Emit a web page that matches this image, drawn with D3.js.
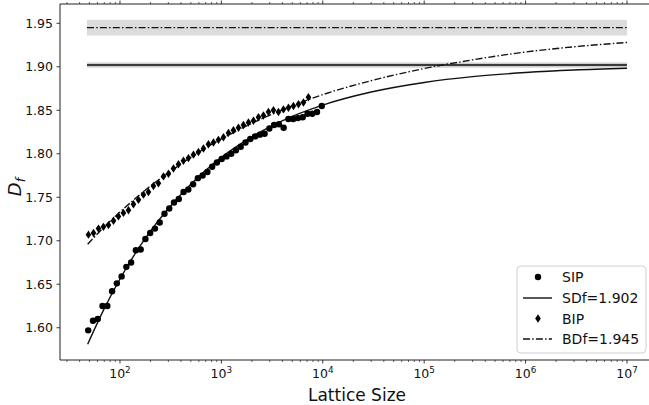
<!DOCTYPE html>
<html>
<head>
<meta charset="utf-8">
<script src="https://cdn.jsdelivr.net/npm/d3@7"></script>
<style>
  html, body { margin: 0; padding: 0; background: #fff; }
  svg { display: block; font-family: "DejaVu Sans", sans-serif; }
</style>
</head>
<body>
<svg id="chart" width="649" height="405"></svg>
<script>
// ---------- data ----------
const sipL = [48.6, 54.2, 60.4, 67.3, 75.0, 83.6, 93.1, 103.8, 115.6, 128.8,
  143.5, 160.0, 178.2, 198.6, 221.3, 246.6, 274.8, 306.2, 341.2, 380.2,
  423.6, 472.1, 526.0, 586.1, 653.1, 727.8, 811.0, 903.6, 1007, 1122,
  1250, 1393, 1552, 1730, 1928, 2148, 2393, 2667, 2972, 3311,
  3690, 4111, 4581, 5105, 5689, 6339, 7063, 7870, 8770, 9772];
const sipD = [1.597, 1.608, 1.610, 1.625, 1.625, 1.642, 1.651, 1.659, 1.670, 1.675,
  1.689, 1.690, 1.702, 1.709, 1.714, 1.721, 1.731, 1.737, 1.744, 1.748,
  1.756, 1.759, 1.765, 1.772, 1.775, 1.779, 1.785, 1.790, 1.794, 1.797,
  1.800, 1.804, 1.808, 1.813, 1.817, 1.820, 1.822, 1.823, 1.829, 1.833,
  1.834, 1.830, 1.840, 1.840, 1.841, 1.842, 1.846, 1.846, 1.848, 1.855];

const bipL = [48.9, 54.8, 61.4, 68.7, 77.0, 86.3, 96.6, 108.2, 121.3, 135.8,
  152.2, 170.4, 190.9, 213.9, 239.6, 268.4, 300.7, 336.8, 377.4, 422.7,
  473.5, 530.5, 594.2, 665.7, 745.7, 835.4, 935.7, 1048, 1174, 1315,
  1474, 1651, 1849, 2072, 2321, 2600, 2912, 3262, 3654, 4093,
  4585, 5136, 5754, 6446, 7220];
const bipD = [1.707, 1.709, 1.714, 1.716, 1.718, 1.723, 1.728, 1.732, 1.735, 1.742,
  1.747, 1.753, 1.756, 1.763, 1.766, 1.774, 1.777, 1.783, 1.788, 1.792,
  1.795, 1.799, 1.802, 1.806, 1.811, 1.813, 1.816, 1.819, 1.824, 1.827,
  1.830, 1.833, 1.836, 1.838, 1.842, 1.844, 1.848, 1.850, 1.848, 1.851,
  1.853, 1.855, 1.857, 1.859, 1.865];

// fitted curves
const sFitL = [48, 70, 100, 150, 200, 300, 500, 700, 1e3, 2e3, 5e3, 1e4, 3e4, 1e5, 3e5, 1e6, 3e6, 1e7];
const sFitD = [1.581, 1.622, 1.656, 1.690, 1.711, 1.737, 1.765, 1.781, 1.796, 1.8195, 1.843, 1.856, 1.871, 1.882, 1.8887, 1.8934, 1.8963, 1.8983];
const bFitL = [48, 70, 100, 150, 200, 300, 500, 700, 1e3, 2e3, 5e3, 1e4, 3e4, 1e5, 3e5, 1e6, 3e6, 1e7];
const bFitD = [1.696, 1.716, 1.733, 1.751, 1.763, 1.778, 1.796, 1.807, 1.817, 1.835, 1.855, 1.868, 1.884, 1.898, 1.908, 1.917, 1.923, 1.928];

// limit values with uncertainty bands
const sdf = 1.902, sdfErr = 0.003;
const bdf = 1.945, bdfErr = 0.009;
const bandRange = [47.3, 1e7];

const xTicks = [1e2, 1e3, 1e4, 1e5, 1e6, 1e7];
const xTickExp = ["2", "3", "4", "5", "6", "7"];
const yTicks = [1.60, 1.65, 1.70, 1.75, 1.80, 1.85, 1.90, 1.95];

const legendLabels = ["SIP", "SDf=1.902", "BIP", "BDf=1.945"];

(function () {
// ---------- layout ----------
const W = 649, H = 405;
const pL = 60, pR = 654, pT = 4, pB = 360;
const svg = d3.select("#chart");

const x = d3.scaleLog().domain([Math.pow(10, 1.4086), Math.pow(10, 7.2663)]).range([pL, pR]);
const y = d3.scaleLinear().domain([1.5629, 1.9722]).range([pB, pT]);

const g = svg.append("g");

// bands
g.append("rect")
  .attr("x", x(bandRange[0])).attr("width", x(bandRange[1]) - x(bandRange[0]))
  .attr("y", y(bdf + bdfErr)).attr("height", y(bdf - bdfErr) - y(bdf + bdfErr))
  .attr("fill", "#dcdcdc");
g.append("rect")
  .attr("x", x(bandRange[0])).attr("width", x(bandRange[1]) - x(bandRange[0]))
  .attr("y", y(sdf + sdfErr)).attr("height", y(sdf - sdfErr) - y(sdf + sdfErr))
  .attr("fill", "#cfcfcf");

const dashDot = "7,2.2,1.5,2.2";

g.append("line")
  .attr("x1", x(bandRange[0])).attr("x2", x(bandRange[1]))
  .attr("y1", y(sdf)).attr("y2", y(sdf))
  .attr("stroke", "#3a3a3a").attr("stroke-width", 2);
g.append("line")
  .attr("x1", x(bandRange[0])).attr("x2", x(bandRange[1]))
  .attr("y1", y(bdf)).attr("y2", y(bdf))
  .attr("stroke", "#111").attr("stroke-width", 1.4)
  .attr("stroke-dasharray", dashDot);

// fit curves
const line = d3.line().x(d => x(d[0])).y(d => y(d[1])).curve(d3.curveMonotoneX);
g.append("path")
  .datum(sFitL.map((l, i) => [l, sFitD[i]]))
  .attr("d", line).attr("fill", "none").attr("stroke", "#111").attr("stroke-width", 1.4);
g.append("path")
  .datum(bFitL.map((l, i) => [l, bFitD[i]]))
  .attr("d", line).attr("fill", "none").attr("stroke", "#111").attr("stroke-width", 1.4)
  .attr("stroke-dasharray", dashDot);

// markers
const diamond = (cx, cy, w, h) => `M${cx},${cy - h}L${cx + w},${cy}L${cx},${cy + h}L${cx - w},${cy}Z`;

g.append("g").selectAll("circle")
  .data(sipL.map((l, i) => [l, sipD[i]]))
  .join("circle")
  .attr("cx", d => x(d[0])).attr("cy", d => y(d[1])).attr("r", 3.2)
  .attr("fill", "#000");

g.append("g").selectAll("path")
  .data(bipL.map((l, i) => [l, bipD[i]]))
  .join("path")
  .attr("d", d => diamond(x(d[0]), y(d[1]), 2.8, 4.2))
  .attr("fill", "#000");

// ---------- axes ----------
const ax = svg.append("g").attr("stroke", "#222").attr("stroke-width", 1);
ax.append("line").attr("x1", pL).attr("x2", W).attr("y1", pB).attr("y2", pB);
ax.append("line").attr("x1", pL).attr("x2", W).attr("y1", pT).attr("y2", pT);
ax.append("line").attr("x1", pL).attr("x2", pL).attr("y1", pT).attr("y2", pB);

// minor ticks (log)
const minor = [];
for (let e = 1; e <= 7; e++) for (let m = 2; m <= 9; m++) {
  const v = m * Math.pow(10, e);
  if (v >= x.domain()[0] && v <= x.domain()[1] && x(v) <= W) minor.push(v);
}
minor.forEach(v => {
  ax.append("line").attr("x1", x(v)).attr("x2", x(v)).attr("y1", pB).attr("y2", pB + 2).attr("stroke-width", 0.7);
  ax.append("line").attr("x1", x(v)).attr("x2", x(v)).attr("y1", pT).attr("y2", pT - 2).attr("stroke-width", 0.7);
});
xTicks.forEach((v, i) => {
  ax.append("line").attr("x1", x(v)).attr("x2", x(v)).attr("y1", pB).attr("y2", pB + 3.5).attr("stroke-width", 0.9);
  ax.append("line").attr("x1", x(v)).attr("x2", x(v)).attr("y1", pT).attr("y2", pT - 3.5).attr("stroke-width", 0.9);
  const t = svg.append("text")
    .attr("x", x(v)).attr("y", 378)
    .attr("text-anchor", "middle")
    .attr("font-size", 12.5).attr("fill", "#111");
  t.append("tspan").text("10");
  t.append("tspan").attr("font-size", 8.8).attr("dy", -5.5).text(xTickExp[i]);
});
yTicks.forEach(v => {
  ax.append("line").attr("x1", pL - 3.5).attr("x2", pL).attr("y1", y(v)).attr("y2", y(v)).attr("stroke-width", 0.9);
  svg.append("text")
    .attr("x", 53).attr("y", y(v)).attr("dy", "0.36em")
    .attr("text-anchor", "end")
    .attr("font-size", 12.5).attr("fill", "#111")
    .text(v.toFixed(2));
});

// axis labels
svg.append("text")
  .attr("x", 357).attr("y", 401)
  .attr("text-anchor", "middle").attr("font-size", 17).attr("fill", "#111")
  .text("Lattice Size");

const yl = svg.append("text")
  .attr("transform", "translate(21,187) rotate(-90)")
  .attr("text-anchor", "middle").attr("font-size", 18).attr("fill", "#111")
  .attr("font-style", "italic");
yl.append("tspan").text("D");
yl.append("tspan").attr("font-size", 12.5).attr("dy", 3.5).text("f");

// ---------- legend ----------
const lg = svg.append("g");
lg.append("rect")
  .attr("x", 517).attr("y", 266).attr("width", 129).attr("height", 87)
  .attr("rx", 4).attr("fill", "#fff").attr("fill-opacity", 0.85)
  .attr("stroke", "#d0d0d0").attr("stroke-width", 1);
const rowY = [277, 298, 318.5, 339];
lg.append("circle").attr("cx", 538).attr("cy", rowY[0]).attr("r", 3.2).attr("fill", "#000");
lg.append("line").attr("x1", 523).attr("x2", 552).attr("y1", rowY[1]).attr("y2", rowY[1])
  .attr("stroke", "#111").attr("stroke-width", 1.4);
lg.append("path").attr("d", diamond(538, rowY[2], 2.8, 4.2)).attr("fill", "#000");
lg.append("line").attr("x1", 523).attr("x2", 552).attr("y1", rowY[3]).attr("y2", rowY[3])
  .attr("stroke", "#111").attr("stroke-width", 1.4).attr("stroke-dasharray", dashDot);
legendLabels.forEach((s, i) => {
  lg.append("text").attr("x", 562).attr("y", rowY[i]).attr("dy", "0.36em")
    .attr("font-size", 14).attr("fill", "#111").text(s);
});
})();
</script>
</body>
</html>
